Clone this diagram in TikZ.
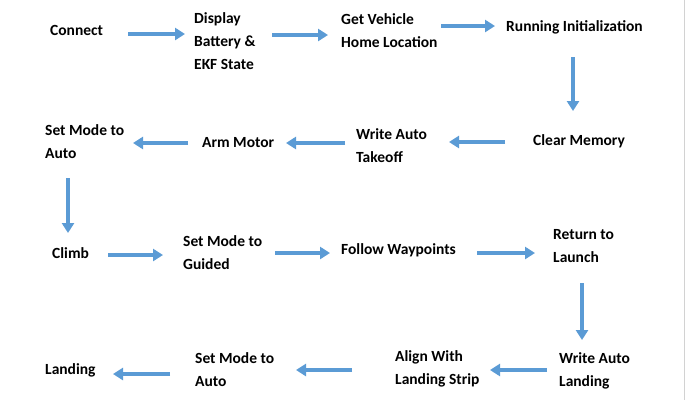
\documentclass[tikz,border=0pt]{standalone}
\usepackage{fontspec}
\setmainfont{Carlito}
\usetikzlibrary{arrows.meta,calc}
\definecolor{arrblue}{HTML}{5B9BD5}
\begin{document}
\begin{tikzpicture}[x=1pt,y=-1pt,
  lbl/.style={anchor=west,inner sep=0pt,align=left,font=\fontsize{15.5}{23}\selectfont\bfseries},
  arr/.style={draw=arrblue,line width=3.2pt,-{Triangle[width=12pt,length=10pt]}}]
\useasboundingbox[fill=white] (0,0) rectangle (687,400);
\draw[gray!35,line width=0.8pt] (684,0) -- (684,400);
% row 1
\node[lbl] (connect) at (50,30) {Connect};
\node[lbl] (disp) at (194,41) {Display\\Battery \&\\EKF State};
\node[lbl] (home) at (341,31) {Get Vehicle\\Home Location};
\node[lbl] (run) at (506,27) {Running Initialization};
% row 2
\node[lbl] (clear) at (533,141) {Clear Memory};
\node[lbl] (wtake) at (356,146) {Write Auto\\Takeoff};
\node[lbl] (arm) at (202,143) {Arm Motor};
\node[lbl] (auto1) at (45,142) {Set Mode to\\Auto};
% row 3
\node[lbl] (climb) at (52,253) {Climb};
\node[lbl] (guided) at (183,253) {Set Mode to\\Guided};
\node[lbl] (follow) at (341,250) {Follow Waypoints};
\node[lbl] (rtl) at (553,246) {Return to\\Launch};
% row 4
\node[lbl] (wland) at (559,371) {Write Auto\\Landing};
\node[lbl] (align) at (395,369) {Align With\\Landing Strip};
\node[lbl] (auto2) at (195,370) {Set Mode to\\Auto};
\node[lbl] (landing) at (45,370) {Landing};
% arrows row 1
\draw[arr] (connect.west |- 0,34) ++(78,0) -- ++(57,0);
\draw[arr] (disp.west |- 0,35) ++(78,0) -- ++(56,0);
\draw[arr] (home.west |- 0,26) ++(100,0) -- ++(54,0);
\draw[arr] (run.west |- 0,57) ++(67,0) -- ++(0,54);
% row 2
\draw[arr] (clear.west |- 0,142) ++(-28,0) -- ++(-56,0);
\draw[arr] (wtake.west |- 0,143) ++(-11,0) -- ++(-59,0);
\draw[arr] (arm.west |- 0,143) ++(-14,0) -- ++(-55,0);
\draw[arr] (auto1.west |- 0,178) ++(23,0) -- ++(0,55);
% row 3
\draw[arr] (climb.west |- 0,255) ++(56,0) -- ++(55,0);
\draw[arr] (guided.west |- 0,253) ++(92,0) -- ++(55,0);
\draw[arr] (follow.west |- 0,253) ++(136,0) -- ++(58,0);
\draw[arr] (rtl.west |- 0,283) ++(29,0) -- ++(0,57);
% row 4
\draw[arr] (wland.west |- 0,370) ++(-12,0) -- ++(-57,0);
\draw[arr] (align.west |- 0,370) ++(-43,0) -- ++(-56,0);
\draw[arr] (auto2.west |- 0,374) ++(-25,0) -- ++(-57,0);
\end{tikzpicture}
\end{document}
